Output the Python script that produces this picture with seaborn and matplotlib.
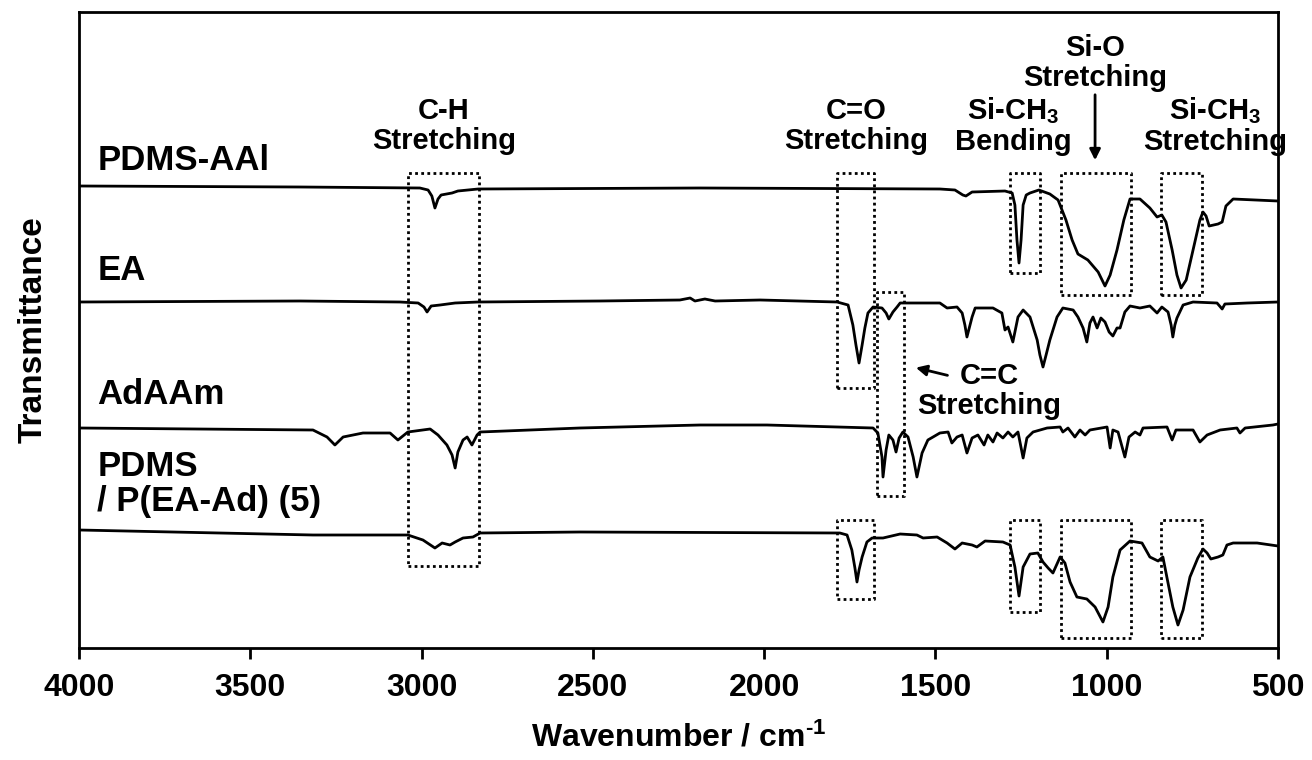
import matplotlib
matplotlib.use("Agg")
import matplotlib.pyplot as plt
import seaborn as sns
import pandas as pd

# ---------------- data ----------------
# wavenumbers (cm^-1) and transmittance (arbitrary units, vertically offset)
pdms_aal_wn = [4000, 3355, 3005, 2981, 2970, 2961, 2952, 2943, 2911, 2894,
               2835, 2187, 1487, 1443, 1420, 1411, 1393, 1297, 1276, 1268,
               1262, 1256, 1250, 1244, 1235, 1224, 1198, 1166, 1142, 1119,
               1101, 1084, 1055, 1025, 1005, 990, 970, 950, 932, 903,
               874, 853, 839, 827, 809, 795, 783, 768, 748, 728,
               719, 710, 701, 675, 663, 652, 631, 500]
pdms_aal_t = [462, 461, 460, 458, 452, 440, 449, 453, 455, 457,
              459, 460, 459, 458, 453, 452, 456, 457, 455, 443,
              408, 385, 408, 443, 453, 455, 458, 454, 448, 428,
              408, 394, 388, 376, 362, 373, 398, 428, 449, 449,
              440, 431, 433, 426, 398, 373, 360, 368, 398, 428,
              436, 432, 422, 424, 426, 442, 449, 447]

ea_wn = [4000, 3355, 3063, 3010, 2993, 2984, 2972, 2946, 2902, 2835,
         2479, 2246, 2216, 2202, 2173, 2143, 2012, 1787, 1755, 1741,
         1732, 1723, 1714, 1706, 1697, 1682, 1656, 1644, 1636, 1624,
         1612, 1603, 1487, 1466, 1437, 1422, 1414, 1408, 1399, 1393,
         1384, 1332, 1306, 1297, 1288, 1274, 1259, 1244, 1224, 1203,
         1195, 1186, 1177, 1166, 1145, 1128, 1098, 1084, 1069, 1058,
         1049, 1040, 1028, 1017, 1005, 993, 982, 970, 961, 947,
         932, 903, 874, 853, 839, 821, 812, 807, 801, 795,
         777, 748, 678, 663, 655, 590, 500]
ea_t = [346, 347, 346, 345, 341, 336, 342, 343, 345, 346,
        347, 348, 350, 347, 349, 347, 348, 346, 343, 323,
        303, 285, 303, 320, 335, 341, 340, 335, 329, 336,
        341, 345, 345, 340, 341, 335, 323, 311, 323, 331,
        340, 340, 335, 318, 321, 306, 331, 338, 331, 308,
        293, 281, 293, 308, 331, 340, 338, 331, 320, 306,
        325, 331, 320, 330, 326, 316, 312, 320, 320, 336,
        342, 340, 342, 335, 341, 336, 323, 311, 323, 330,
        343, 346, 345, 339, 344, 345, 346]

adaam_wn = [4000, 3317, 3276, 3253, 3229, 3171, 3092, 3069, 3040, 2975,
            2952, 2926, 2911, 2902, 2894, 2879, 2867, 2853, 2838, 2829,
            2538, 2187, 1992, 1682, 1668, 1656, 1653, 1644, 1636, 1624,
            1615, 1606, 1595, 1580, 1565, 1554, 1539, 1522, 1487, 1463,
            1452, 1437, 1422, 1408, 1393, 1376, 1358, 1347, 1332, 1320,
            1303, 1288, 1274, 1259, 1244, 1233, 1215, 1174, 1136, 1128,
            1113, 1093, 1078, 1063, 1049, 999, 990, 982, 967, 947,
            935, 917, 903, 894, 824, 809, 798, 748, 728, 707,
            669, 620, 611, 596, 515, 500]
adaam_t = [220, 218, 211, 203, 211, 215, 215, 208, 216, 219,
           213, 203, 193, 180, 196, 208, 211, 203, 213, 216,
           220, 223, 223, 220, 215, 191, 171, 198, 213, 208,
           196, 210, 216, 211, 191, 171, 195, 208, 215, 216,
           205, 211, 213, 195, 210, 213, 203, 213, 206, 215,
           210, 216, 211, 216, 190, 210, 216, 220, 221, 216,
           220, 211, 218, 213, 218, 221, 200, 218, 216, 191,
           211, 216, 213, 220, 221, 208, 218, 218, 206, 213,
           218, 220, 215, 220, 223, 224]

pdms_pea_wn = [4000, 3317, 3040, 2996, 2961, 2940, 2917, 2902, 2879, 2850,
               2829, 2538, 1779, 1758, 1744, 1735, 1729, 1723, 1714, 1700,
               1685, 1653, 1603, 1554, 1536, 1495, 1466, 1443, 1422, 1393,
               1379, 1355, 1303, 1282, 1268, 1256, 1244, 1224, 1201, 1186,
               1171, 1157, 1136, 1122, 1107, 1087, 1058, 1034, 1011, 996,
               982, 961, 932, 897, 874, 850, 836, 821, 807, 792,
               777, 757, 734, 719, 707, 696, 675, 661, 649, 631,
               561, 500]
pdms_pea_t = [118, 113, 113, 108, 100, 105, 103, 106, 110, 111,
              115, 116, 115, 113, 98, 80, 66, 78, 91, 106,
              110, 110, 114, 113, 110, 111, 105, 99, 105, 103,
              101, 107, 106, 103, 81, 52, 81, 94, 95, 86,
              80, 75, 91, 85, 66, 51, 49, 41, 26, 41,
              71, 98, 107, 105, 91, 87, 91, 65, 41, 23,
              38, 71, 90, 99, 95, 89, 91, 93, 103, 105,
              105, 102]

sample_names = ["PDMS-AAl", "EA", "AdAAm", "PDMS\n/ P(EA-Ad) (5)"]
xticks = [4000, 3500, 3000, 2500, 2000, 1500, 1000, 500]

# ---------------- style ----------------
sns.set_theme(style="white")
plt.rcParams["font.family"] = ["Liberation Sans", "DejaVu Sans"]
plt.rcParams["font.weight"] = "bold"
plt.rcParams["text.color"] = "black"
plt.rcParams["axes.labelcolor"] = "black"
plt.rcParams["xtick.color"] = "black"
plt.rcParams["ytick.color"] = "black"
plt.rcParams["mathtext.fontset"] = "custom"
plt.rcParams["mathtext.rm"] = "Liberation Sans:bold"
plt.rcParams["mathtext.bf"] = "Liberation Sans:bold"
plt.rcParams["mathtext.default"] = "bf"

fig = plt.figure(figsize=(13.12, 7.6), dpi=100)
ax = fig.add_axes([79 / 1312, 1 - 648 / 760, 1199 / 1312, 636 / 760])

spectra = [(pdms_aal_wn, pdms_aal_t), (ea_wn, ea_t),
           (adaam_wn, adaam_t), (pdms_pea_wn, pdms_pea_t)]
for name, (wn, t) in zip(sample_names, spectra):
    df = pd.DataFrame({"wn": wn, "t": t})
    sns.lineplot(data=df, x="wn", y="t", ax=ax, color="black", lw=2,
                 estimator=None, sort=False, legend=False)

ax.set_xlim(4000, 500)
ax.set_ylim(0, 636)
ax.set_xticks(xticks)
ax.set_xticklabels([str(v) for v in xticks])
ax.set_yticks([])
ax.tick_params(axis="x", direction="out", length=8, width=2,
               labelsize=23, pad=10, bottom=True, colors="black")
for lab in ax.get_xticklabels():
    lab.set_fontweight("bold")
for sp in ax.spines.values():
    sp.set_linewidth(2)
    sp.set_color("black")

ax.set_xlabel(r"Wavenumber / cm$^{\text{-1}}$", fontsize=23,
              fontweight="bold", labelpad=14, color="black")
ax.set_ylabel("Transmittance", fontsize=24, fontweight="bold", labelpad=22,
              color="black")

# sample labels
lab_kw = dict(fontsize=25, fontweight="bold", ha="left", va="center",
              color="black")
ax.text(3947, 488, sample_names[0], **lab_kw)
ax.text(3947, 378, sample_names[1], **lab_kw)
ax.text(3947, 254, sample_names[2], **lab_kw)
ax.text(3947, 164, sample_names[3], linespacing=1.05, **lab_kw)

# dotted boxes (wn_left, wn_right, t_bottom, t_top)
boxes = [(3040, 2832, 82, 475),
         (1787, 1679, 260, 475), (1671, 1592, 152, 356),
         (1282, 1195, 375, 475), (1133, 929, 353, 475), (842, 722, 353, 475),
         (1787, 1679, 49, 128), (1282, 1195, 36, 128),
         (1133, 929, 10, 128), (842, 722, 10, 128)]
for x0, x1, y0, y1 in boxes:
    ax.plot([x0, x1, x1, x0, x0], [y0, y0, y1, y1, y0], color="black",
            ls=(0, (1, 1.2)), lw=2)

ann_kw = dict(fontsize=21, fontweight="bold", ha="center", va="center",
              linespacing=1.1, color="black")
ax.text(2935, 522, "C-H\nStretching", **ann_kw)
ax.text(1732, 522, "C=O\nStretching", **ann_kw)
ax.text(1274, 522, "Si-CH$_3$\nBending", **ann_kw)
ax.text(1034, 585, "Si-O\nStretching", **ann_kw)
ax.text(684, 522, "Si-CH$_3$\nStretching", **ann_kw)
ax.text(1344, 257, "C=C\nStretching", **ann_kw)

ax.annotate("", xy=(1034, 485), xytext=(1034, 556),
            arrowprops=dict(arrowstyle="-|>", color="black", lw=2,
                            mutation_scale=16))
ax.annotate("", xy=(1565, 281), xytext=(1457, 272),
            arrowprops=dict(arrowstyle="-|>", color="black", lw=2,
                            mutation_scale=16))

fig.savefig("out.png", dpi=100)
